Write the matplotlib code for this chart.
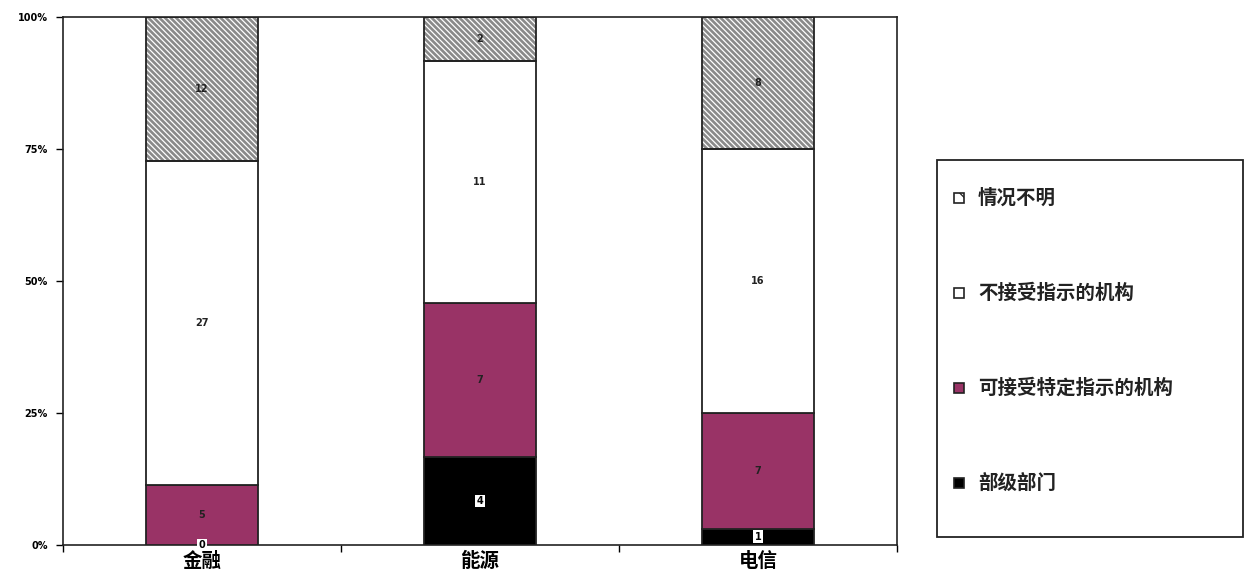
import numpy as np
import matplotlib
matplotlib.use("Agg")
import matplotlib.pyplot as plt
from matplotlib.patches import Rectangle

plt.rcParams['font.family'] = ['Noto Sans CJK SC', 'DejaVu Sans']
plt.rcParams['hatch.linewidth'] = 0.9

# counts per sector, stacked bottom -> top
sectors = ['金融', '能源', '电信']
series_names = ['部级部门', '可接受特定指示的机构', '不接受指示的机构', '情况不明']
ministry = [0, 4, 1]
directed = [5, 7, 7]
independent = [27, 11, 16]
unknown = [12, 2, 8]
y_ticks = [0, 25, 50, 75, 100]
y_tick_labels = ['0%', '25%', '50%', '75%', '100%']

counts = np.array([ministry, directed, independent, unknown], dtype=float)
shares = counts / counts.sum(axis=0) * 100

styles = [
    dict(color='black', hatch=None),
    dict(color='#993366', hatch=None),
    dict(color='white', hatch=None),
    dict(color='#8a8a8a', hatch='\\' * 6),
]

fig = plt.figure(figsize=(12.51, 5.82), dpi=100)
ax = fig.add_axes([63 / 1251, 37 / 582, (897 - 63) / 1251, (545 - 17) / 582])

x = np.arange(len(sectors))
width = 0.4
bottom = np.zeros(len(sectors))
for i, (row, st) in enumerate(zip(shares, styles)):
    if st['hatch']:
        # hatched fill first (white stripes), outline drawn on top
        ax.bar(x, row, width, bottom=bottom, color=st['color'], hatch=st['hatch'],
               edgecolor='white', linewidth=0, zorder=2)
        ax.bar(x, row, width, bottom=bottom, fill=False, edgecolor='#222222',
               linewidth=1.3, zorder=3)
    else:
        ax.bar(x, row, width, bottom=bottom, color=st['color'], edgecolor='#222222',
               linewidth=1.3, zorder=3)
    for xi, b, h, n in zip(x, bottom, row, counts[i]):
        if i == 0:
            ax.text(xi, b + h / 2, f'{int(n)}', ha='center', va='center', fontsize=7,
                    family='DejaVu Sans', fontweight='bold', zorder=5,
                    bbox=dict(boxstyle='square,pad=0.15', fc='white', ec='none'))
        else:
            ax.text(xi, b + h / 2, f'{int(n)}', ha='center', va='center', fontsize=7,
                    family='DejaVu Sans', fontweight='bold', color='#222222', zorder=5)
    bottom += row

ax.set_xlim(-0.5, len(sectors) - 0.5)
ax.set_ylim(0, 100)
ax.set_yticks(y_ticks)
ax.set_yticklabels(y_tick_labels, fontsize=7, family='DejaVu Sans', fontweight='bold')
ax.set_xticks(x)
ax.set_xticklabels(sectors, fontsize=14, fontweight='bold')
ax.set_xticks(np.arange(-0.5, len(sectors)), minor=True)
ax.tick_params(axis='x', which='major', length=0, pad=5)
ax.tick_params(axis='x', which='minor', length=5, width=1, direction='out')
ax.tick_params(axis='y', length=5, width=1, direction='out', pad=6)
for sp in ax.spines.values():
    sp.set_color('#222222')
    sp.set_linewidth(1.2)

# legend box drawn in figure pixels
W, H = 1251, 582
fig.patches.append(Rectangle((937 / W, 1 - 537 / H), (1243 - 937) / W, (537 - 160) / H,
                             transform=fig.transFigure, fill=False, edgecolor='#222222',
                             linewidth=1.3))
legend_y = [198, 293, 388, 483]
for name, st, yy in zip(series_names[::-1], styles[::-1], legend_y):
    sq = 10
    if st['hatch']:
        fig.patches.append(Rectangle((954 / W, 1 - (yy + sq / 2) / H), sq / W, sq / H,
                                     transform=fig.transFigure, facecolor='white',
                                     hatch='\\', edgecolor='#222222', linewidth=0))
    fig.patches.append(Rectangle((954 / W, 1 - (yy + sq / 2) / H), sq / W, sq / H,
                                 transform=fig.transFigure,
                                 facecolor='none' if st['hatch'] else st['color'],
                                 edgecolor='#222222', linewidth=1.2))
    fig.text(978 / W, 1 - yy / H, name, fontsize=14, fontweight='bold', va='center',
             ha='left', color='#222222')

fig.savefig('out.png', dpi=100)
